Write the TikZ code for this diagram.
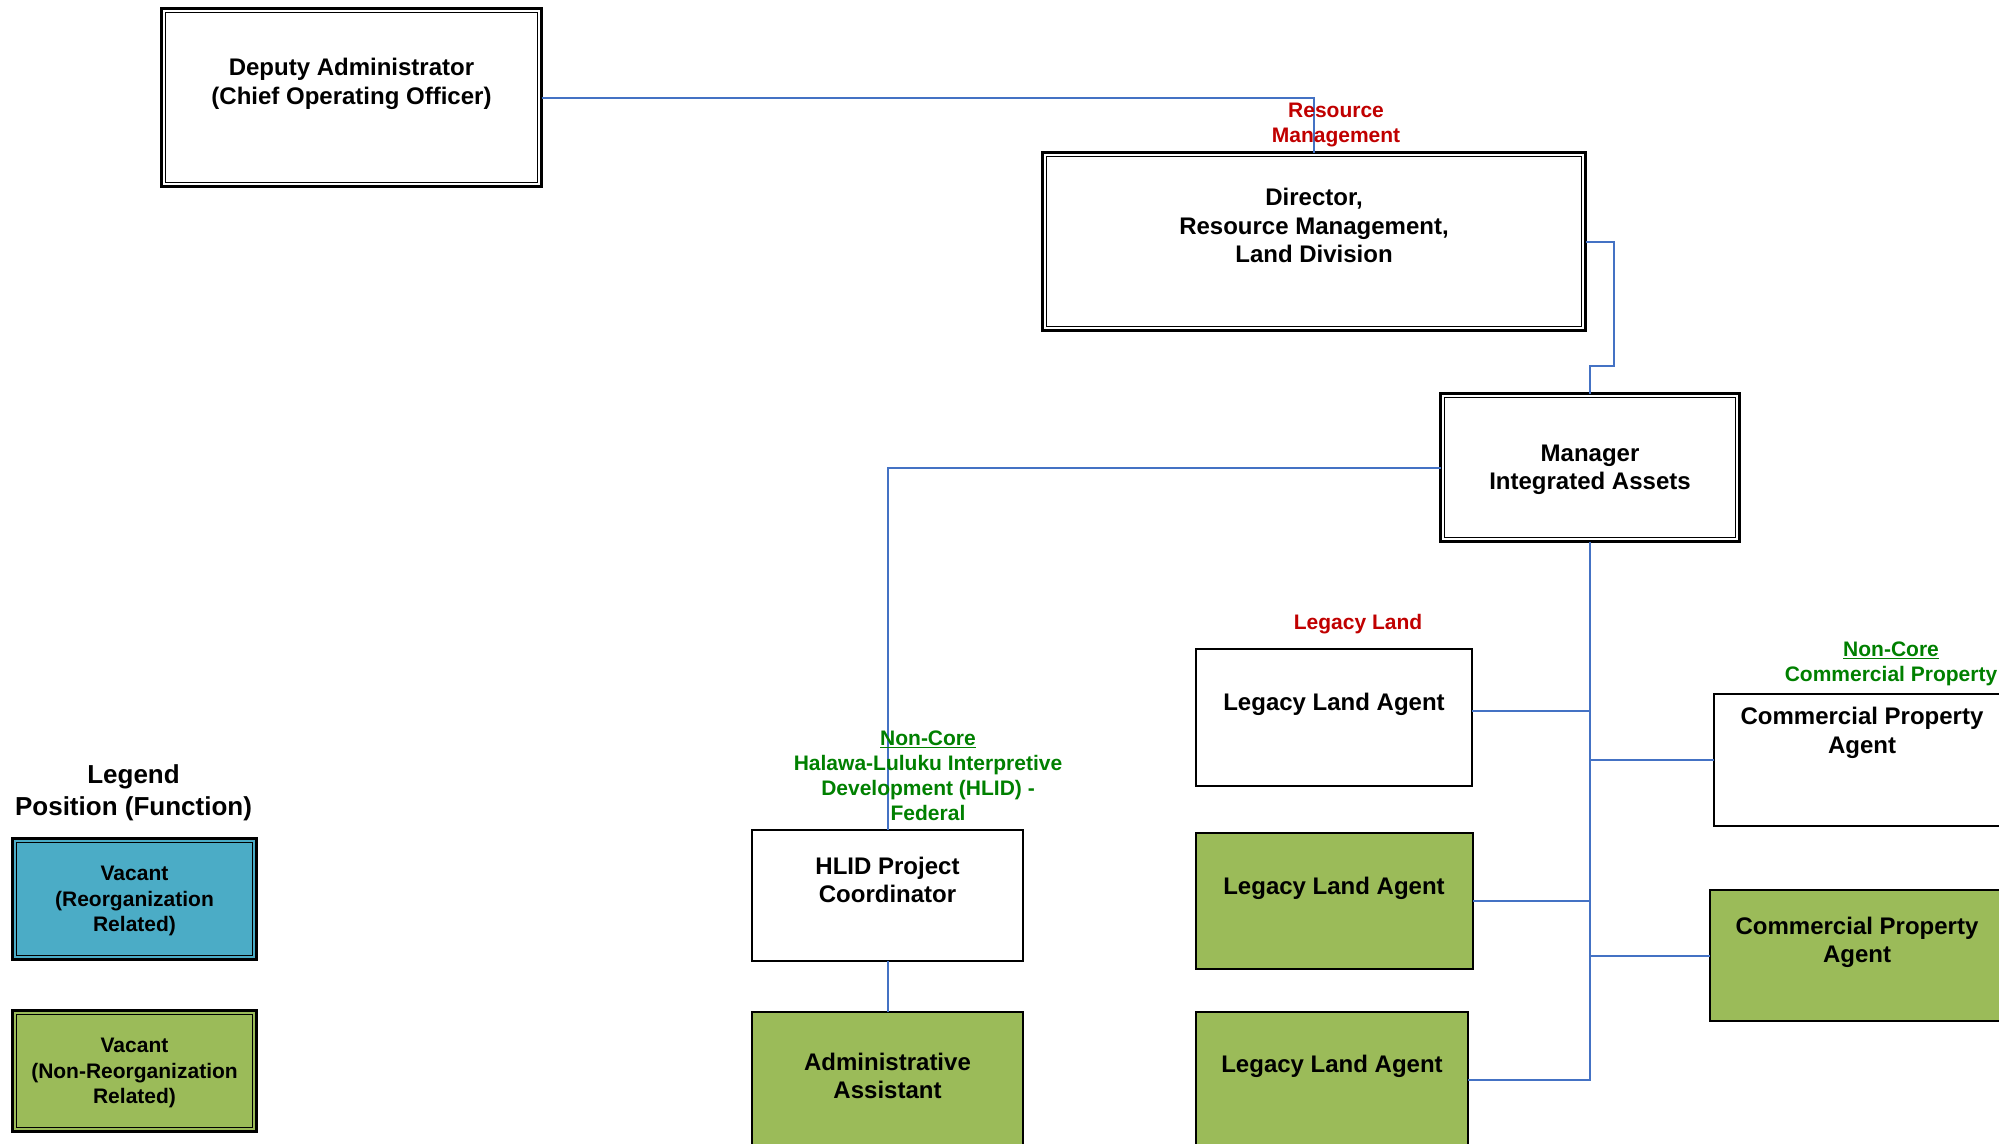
\documentclass[tikz,border=0pt]{standalone}
\usepackage{fontspec}
\setmainfont{Liberation Sans}
\usetikzlibrary{calc}
\definecolor{linkblue}{RGB}{68,114,196}
\definecolor{reorgblue}{RGB}{75,172,198}
\definecolor{vacgreen}{RGB}{155,187,89}
\definecolor{redlbl}{RGB}{192,0,0}
\definecolor{grnlbl}{RGB}{0,128,0}
\begin{document}
\begin{tikzpicture}[x=1pt,y=-1pt,
  % thick outer frame with a thinner inner frame
  dblbox/.style={draw=black, line width=2.4pt, inner sep=0pt, outer sep=0pt,
    path picture={\draw[black, line width=1.4pt]
      ([shift={(4.2pt,4.2pt)}]path picture bounding box.south west) rectangle
      ([shift={(-4.2pt,-4.2pt)}]path picture bounding box.north east);}},
  posbox/.style={draw=black, line width=2pt, fill=white, inner sep=0pt, outer sep=0pt},
  boxtext/.style={font=\fontsize{24}{28.5}\selectfont\bfseries, align=center, inner sep=0pt},
  lbl/.style={font=\fontsize{21}{25}\selectfont\bfseries, align=center, inner sep=0pt},
  legtext/.style={font=\fontsize{21}{25.5}\selectfont\bfseries, align=center, inner sep=0pt},
  link/.style={draw=linkblue, line width=2pt}]
\useasboundingbox (0,0) rectangle (1999,1143);
\clip (0,0) rectangle (1999,1143);

% boxes
\node[dblbox, minimum width=380, minimum height=178] (da) at (351.5,97.5) {};
\node[dblbox, minimum width=543, minimum height=178] (dir) at (1314,241.5) {};
\node[dblbox, minimum width=299, minimum height=148] (mgr) at (1590,467.5) {};
\node[posbox, minimum width=271, minimum height=131] (hlid) at (887.5,895.5) {};
\node[posbox, fill=vacgreen, minimum width=271, minimum height=136] (admin) at (887.5,1080) {};
\node[posbox, minimum width=276, minimum height=137] (lla1) at (1334,717.5) {};
\node[posbox, fill=vacgreen, minimum width=277, minimum height=136] (lla2) at (1334.5,901) {};
\node[posbox, fill=vacgreen, minimum width=272, minimum height=136] (lla3) at (1332,1080) {};
\node[posbox, minimum width=296, minimum height=132] (cpa1) at (1862,760) {};
\node[posbox, fill=vacgreen, minimum width=294, minimum height=131] (cpa2) at (1857,955.5) {};

% connectors
\coordinate (dirbend) at (1614,366);
\coordinate (lla1c) at ([yshift=7pt]lla1.east);
\draw[link] (da.east) -| (dir.north);
\draw[link] (dir.east) -| (dirbend) -| (mgr.north);
\draw[link] (mgr.west) -| (hlid.north);
\draw[link] (hlid.south) -- (admin.north);
\draw[link] (mgr.south) |- (lla3.east);
\draw[link] (lla1c) -- (lla1c -| mgr.south);
\draw[link] (lla2.east) -- (lla2.east -| mgr.south);
\draw[link] (cpa1.west) -- (cpa1.west -| mgr.south);
\draw[link] (cpa2.west) -- (cpa2.west -| mgr.south);

% box texts
\node[boxtext] (da-t) at (351.5,84) {Deputy Administrator\\(Chief Operating Officer)};
\node[boxtext] (dir-t) at (1314,225.5) {Director,\\Resource Management,\\Land Division};
\node[boxtext] (mgr-t) at (1590,470) {Manager\\Integrated Assets};
\node[boxtext] (hlid-t) at (887.5,880) {HLID Project\\Coordinator};
\node[boxtext] (admin-t) at (887.5,1076) {Administrative\\Assistant};
\node[boxtext] (lla1-t) at (1334,704) {Legacy Land Agent};
\node[boxtext] (lla2-t) at (1334,888) {Legacy Land Agent};
\node[boxtext] (lla3-t) at (1332,1066) {Legacy Land Agent};
\node[boxtext] (cpa1-t) at (1862,733) {Commercial Property\\Agent};
\node[boxtext] (cpa2-t) at (1857,942.5) {Commercial Property\\Agent};

% group labels
\node[lbl, text=redlbl] (rm-l) at (1336,125) {Resource\\Management};
\node[lbl, text=redlbl] (ll-l) at (1358,624) {Legacy Land};
\node[lbl, text=grnlbl] (hlid-l) at (928,775.5) {\underline{Non-Core}\\Halawa-Luluku Interpretive\\Development (HLID) -\\Federal};
\node[lbl, text=grnlbl] (cp-l) at (1891,664) {\underline{Non-Core}\\Commercial Property};

% legend
\node[font=\fontsize{26}{32}\selectfont\bfseries, align=center, inner sep=0pt] (leg-t) at (133.5,793) {Legend\\Position (Function)};
\node[dblbox, fill=reorgblue, minimum width=244, minimum height=121] (leg1) at (134.5,899) {};
\node[dblbox, fill=vacgreen, minimum width=244, minimum height=121] (leg2) at (134.5,1071) {};
\node[legtext] (leg1-t) at (134.5,901) {Vacant\\(Reorganization\\Related)};
\node[legtext] (leg2-t) at (134.5,1073) {Vacant\\(Non-Reorganization\\Related)};
\end{tikzpicture}
\end{document}
